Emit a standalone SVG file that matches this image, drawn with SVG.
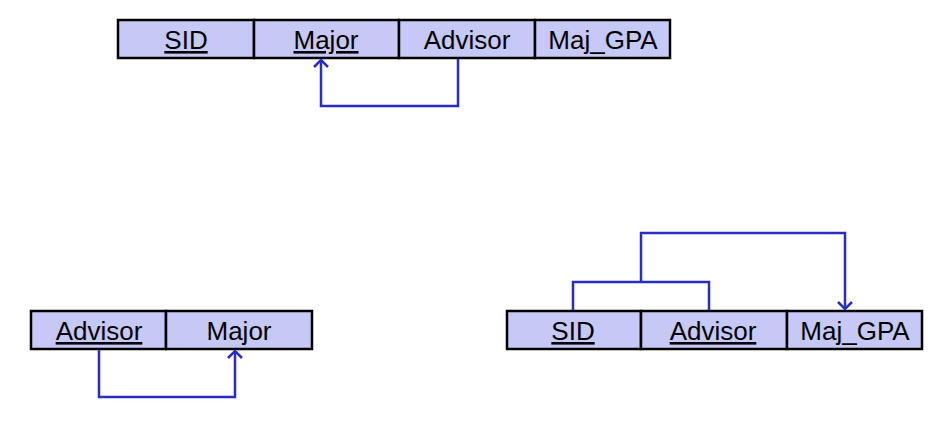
<svg xmlns="http://www.w3.org/2000/svg" width="931" height="444" viewBox="0 0 931 444">
<style>
.cell{fill:#c6c8f6;stroke:#000;stroke-width:2.5}
.t{font-family:"Liberation Sans",Arial,sans-serif;font-size:26px;fill:#000;text-anchor:middle}
.k{text-decoration:underline}
.c{fill:none;stroke:#2a2ec0;stroke-width:2.5;stroke-linejoin:miter}
</style>
<defs>
<marker id="ah" markerWidth="16" markerHeight="16" refX="8" refY="8" orient="auto" markerUnits="userSpaceOnUse">
<path d="M1,1 L8,8 L1,15" fill="none" stroke="#2a2ec0" stroke-width="2.5"/>
</marker>
</defs>
<rect width="931" height="444" fill="#fff"/>
<g id="table1">
<rect class="cell" x="118" y="20" width="136" height="38"/>
<rect class="cell" x="254" y="20" width="145" height="38"/>
<rect class="cell" x="399" y="20" width="136" height="38"/>
<rect class="cell" x="535" y="20" width="135" height="38"/>
<text class="t k" x="186" y="49">SID</text>
<text class="t k" x="326" y="49">Major</text>
<text class="t" x="467" y="49">Advisor</text>
<text class="t" x="603" y="49">Maj_GPA</text>
</g>
<g id="table2">
<rect class="cell" x="31" y="311" width="135" height="38"/>
<rect class="cell" x="166" y="311" width="146" height="38"/>
<text class="t k" x="99" y="340">Advisor</text>
<text class="t" x="239" y="340">Major</text>
</g>
<g id="table3">
<rect class="cell" x="507" y="311" width="134" height="38"/>
<rect class="cell" x="641" y="311" width="146" height="38"/>
<rect class="cell" x="787" y="311" width="135" height="38"/>
<text class="t k" x="573" y="340">SID</text>
<text class="t k" x="713" y="340">Advisor</text>
<text class="t" x="855" y="340">Maj_GPA</text>
</g>
<g id="connectors">
<path class="c" d="M458,59 V106 H321 V60" marker-end="url(#ah)"/>
<path class="c" d="M99,350 V397 H235 V351" marker-end="url(#ah)"/>
<path class="c" d="M573,310 V282 H709 V310"/>
<path class="c" d="M641,282 V233 H845 V309" marker-end="url(#ah)"/>
</g>
</svg>
